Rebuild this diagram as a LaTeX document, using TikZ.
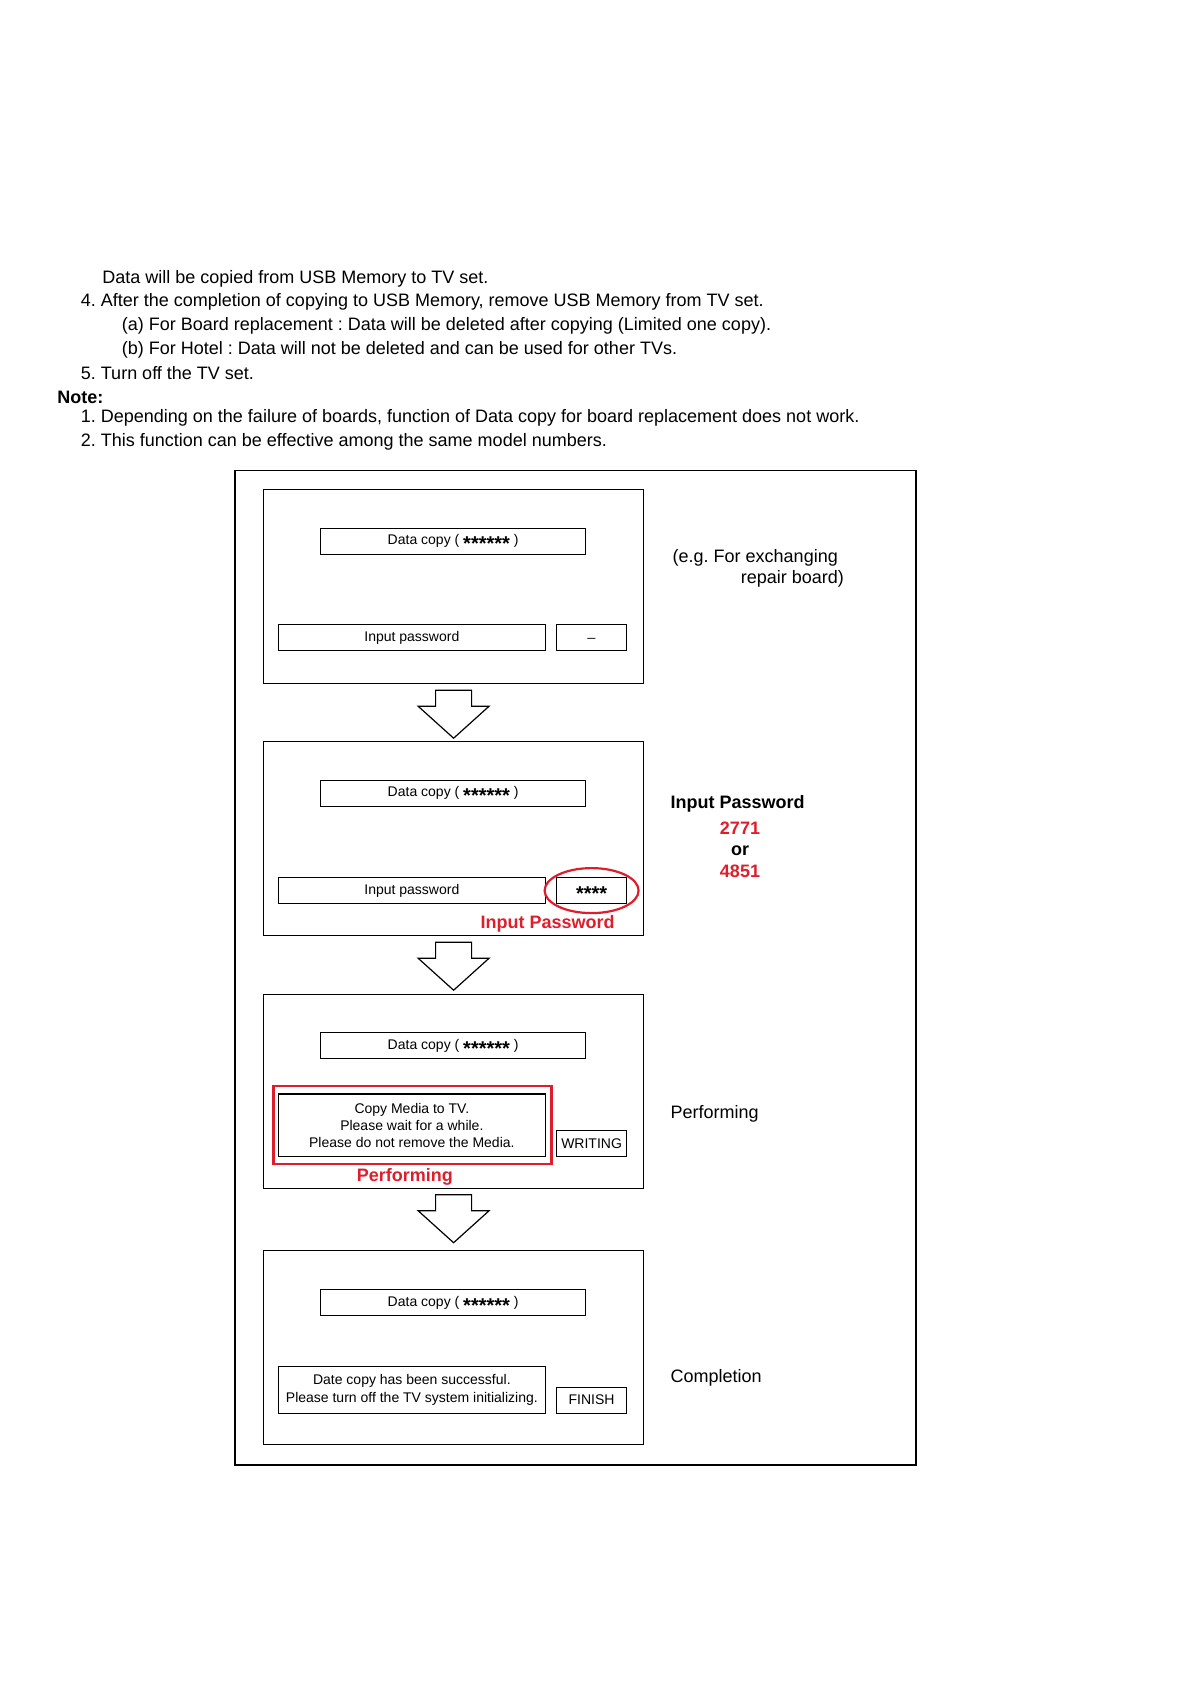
\documentclass[tikz,border=0pt]{standalone}
\usepackage{fontspec}
\setmainfont{Liberation Sans}
\usetikzlibrary{calc}
\definecolor{redmark}{RGB}{222,30,44}
\frenchspacing
\newcommand{\stars}[1]{\raisebox{-3.1pt}[4pt][0pt]{\fontsize{10}{10}\selectfont\bfseries #1}}
\newcommand{\blockdown}[1]{%
  \draw[line width=0.6pt, fill=white, line join=miter]
    ([shift={(-18,0)}]#1) -- ([shift={(18,0)}]#1) -- ([shift={(18,16)}]#1)
    -- ([shift={(35.5,16)}]#1) -- ([shift={(0,48)}]#1) -- ([shift={(-35.5,16)}]#1)
    -- ([shift={(-18,16)}]#1) -- cycle;}
\begin{document}
\begin{tikzpicture}[x=0.5pt,y=-0.5pt,
  body/.style={font=\fontsize{9}{11}\selectfont, anchor=west, inner sep=0pt},
  screen/.style={draw, line width=0.6pt, minimum width=190pt, minimum height=97pt, anchor=north west, inner sep=0pt},
  tvbox/.style={draw, line width=0.6pt, anchor=north west, inner sep=0pt, font=\fontsize{7}{8.6}\selectfont, align=center, minimum height=13pt},
  widebox/.style={tvbox, minimum width=133.25pt},
  copybox/.style={tvbox, minimum width=132.5pt},
  smallbox/.style={tvbox, minimum width=35pt},
  redlabel/.style={font=\fontsize{9}{11}\selectfont\bfseries, text=redmark, inner sep=0pt},
]
\useasboundingbox (0,0) rectangle (1190,1684);

% ---- body text ----
\node[body] (t1) at (102,278.5) {Data will be copied from USB Memory to TV set.};
\node[body] (t2) at (80.5,302) {4. After the completion of copying to USB Memory, remove USB Memory from TV set.};
\node[body] (t3) at (121.4,325.8) {(a) For Board replacement : Data will be deleted after copying (Limited one copy).};
\node[body] (t4) at (121.4,349.4) {(b) For Hotel : Data will not be deleted and can be used for other TVs.};
\node[body] (t5) at (80.5,373) {5. Turn off the TV set.};
\node[body, font=\fontsize{9}{11}\selectfont\bfseries] (t6) at (56.9,397) {Note:};
\node[body] (t7) at (80.5,418) {1. Depending on the failure of boards, function of Data copy for board replacement does not work.};
\node[body] (t8) at (80.5,442) {2. This function can be effective among the same model numbers.};

% ---- outer frame ----
\draw[line width=0.9pt] (235,470.4) rectangle (916,1465);

% ---- screen 1 ----
\node[screen] (s1) at (263,489) {};
\node[copybox] (s1c) at (320,527.5) {Data copy ( \stars{******} )};
\node[widebox] (s1p) at (278,624) {Input password};
\node[smallbox] (s1v) at (556,624) {\_};

% ---- screen 2 ----
\node[screen] (s2) at (263,741) {};
\node[copybox] (s2c) at (320,779.5) {Data copy ( \stars{******} )};
\node[widebox] (s2p) at (278,877) {Input password};
\node[smallbox] (s2v) at (556,877) {\stars{****}};
\draw[redmark, line width=1.1pt] (s2v.center) ellipse [x radius=47, y radius=22.5];
\node[redlabel] (s2l) at (547.7,924) {Input Password};

% ---- screen 3 ----
\node[screen] (s3) at (263,993.5) {};
\node[copybox] (s3c) at (320,1032) {Data copy ( \stars{******} )};
\node[widebox, minimum height=31.3pt] (s3p) at (278,1093.3) {Copy Media to TV.\\Please wait for a while.\\Please do not remove the Media.};
\node[draw=redmark, line width=1.3pt, anchor=north west, minimum width=139pt, minimum height=39pt, inner sep=0pt] (s3r) at (272,1084.5) {};
\node[smallbox] (s3v) at (556,1129.8) {WRITING};
\node[redlabel] (s3l) at (404.9,1177) {Performing};

% ---- screen 4 ----
\node[screen] (s4) at (263,1250) {};
\node[copybox] (s4c) at (320,1288.8) {Data copy ( \stars{******} )};
\node[widebox, minimum height=23.2pt] (s4p) at (278,1366.1) {Date copy has been successful.\\Please turn off the TV system initializing.};
\node[smallbox] (s4v) at (556,1386.5) {FINISH};

% ---- block arrows ----
\coordinate (a1) at ($(s1.south)+(0,6)$);
\coordinate (a2) at ($(s2.south)+(0,6)$);
\coordinate (a3) at ($(s3.south)+(0,6)$);
\blockdown{a1}
\blockdown{a2}
\blockdown{a3}

% ---- right column ----
\node[body] (r1) at (672.3,557.8) {(e.g. For exchanging};
\node[body, anchor=east] (r2) at (844.2,579) {repair board)};
\node[body, font=\fontsize{9}{11}\selectfont\bfseries] (r3) at (670.2,803.5) {Input Password};
\node[redlabel] (r4) at (740,828.5) {2771};
\node[font=\fontsize{9}{11}\selectfont\bfseries, inner sep=0pt] (r5) at (740,850.5) {or};
\node[redlabel] (r6) at (740,871.5) {4851};
\node[body] (r7) at (670.2,1114) {Performing};
\node[body] (r8) at (670.2,1378) {Completion};
\end{tikzpicture}
\end{document}
